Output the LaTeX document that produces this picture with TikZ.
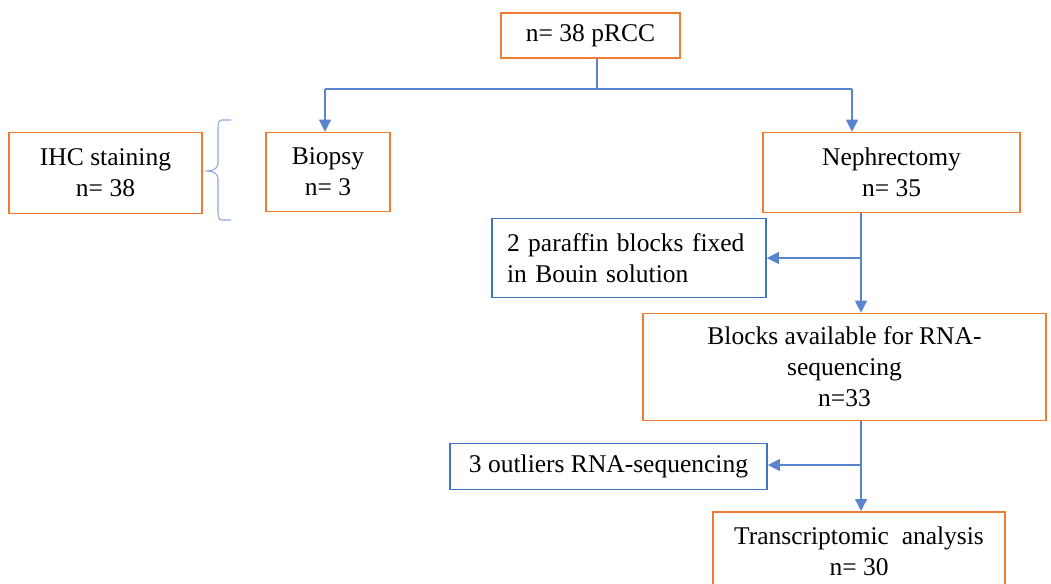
\documentclass[tikz,border=0pt]{standalone}
\usepackage{fontspec}
\setmainfont{Liberation Serif}
\usetikzlibrary{arrows.meta,decorations.pathreplacing}
\definecolor{orbox}{HTML}{ED7D31}
\definecolor{blbox}{HTML}{4472C4}
\definecolor{blline}{HTML}{5B84CF}
\begin{document}
\begin{tikzpicture}[x=1pt,y=-1pt,
  obox/.style={draw=orbox,line width=1.6pt,inner sep=0pt,align=center,font=\fontsize{25.5}{31}\selectfont},
  bbox/.style={draw=blbox,line width=1.7pt,inner sep=0pt,font=\fontsize{25.5}{31}\selectfont},
  conn/.style={draw=blline,line width=1.2pt},
  arr/.style={conn,-{Triangle[width=12pt,length=12pt]}}]
\useasboundingbox (0,0) rectangle (1051,583);
\node[obox,minimum width=179pt,minimum height=45pt] (top) at (590.5,35.5) {n= 38 pRCC};
\node[obox,minimum width=193pt,minimum height=81pt] (ihc) at (105.5,173) {IHC staining\\n= 38};
\node[obox,minimum width=124pt,minimum height=79pt] (bio) at (328,172) {Biopsy\\n= 3};
\node[obox,minimum width=257pt,minimum height=80pt] (neph) at (891.5,172.5) {Nephrectomy\\n= 35};
\node[bbox,minimum width=274pt,minimum height=79pt,align=left,text width=244pt] (par) at (629,258) {2 paraffin blocks fixed\\in Bouin solution};
\node[obox,minimum width=403pt,minimum height=107pt] (blk) at (844.5,367) {Blocks available for RNA-\\sequencing\\n=33};
\node[bbox,minimum width=317pt,minimum height=46pt] (out) at (608.5,466.5) {3 outliers RNA-sequencing};
\node[obox,minimum width=292pt,text height=64pt,text depth=36pt,anchor=north] (tra) at (859,511) {Transcriptomic\ \ analysis\\n= 30};
% connectors
\coordinate (j1) at (597,89);
\coordinate (jl) at (325,89);
\coordinate (jr) at (852,89);
\draw[conn] (top.south -| j1) -- (j1);
\draw[conn] (jl) -- (jr);
\draw[arr] (jl) -- (bio.north -| jl);
\draw[arr] (jr) -- (neph.north -| jr);
\coordinate (v1) at (861,258);
\draw[arr] (neph.south -| v1) -- (blk.north -| v1);
\draw[arr] (v1) -- (par.east |- v1);
\coordinate (v2) at (861,465);
\draw[arr] (blk.south -| v2) -- (tra.north -| v2);
\draw[arr] (v2) -- (out.east |- v2);
% brace
\coordinate (b1) at (231,120);
\coordinate (b2) at (231,220);
\draw[draw=blline!70,line width=1.1pt] (b1) -- (222,120) .. controls (219,120) and (218,123) .. (218,128) -- (218,163) .. controls (218,168) and (214,171) .. (207,171) .. controls (214,171) and (218,174) .. (218,179) -- (218,212) .. controls (218,217) and (219,220) .. (222,220) -- (b2);
\end{tikzpicture}
\end{document}
